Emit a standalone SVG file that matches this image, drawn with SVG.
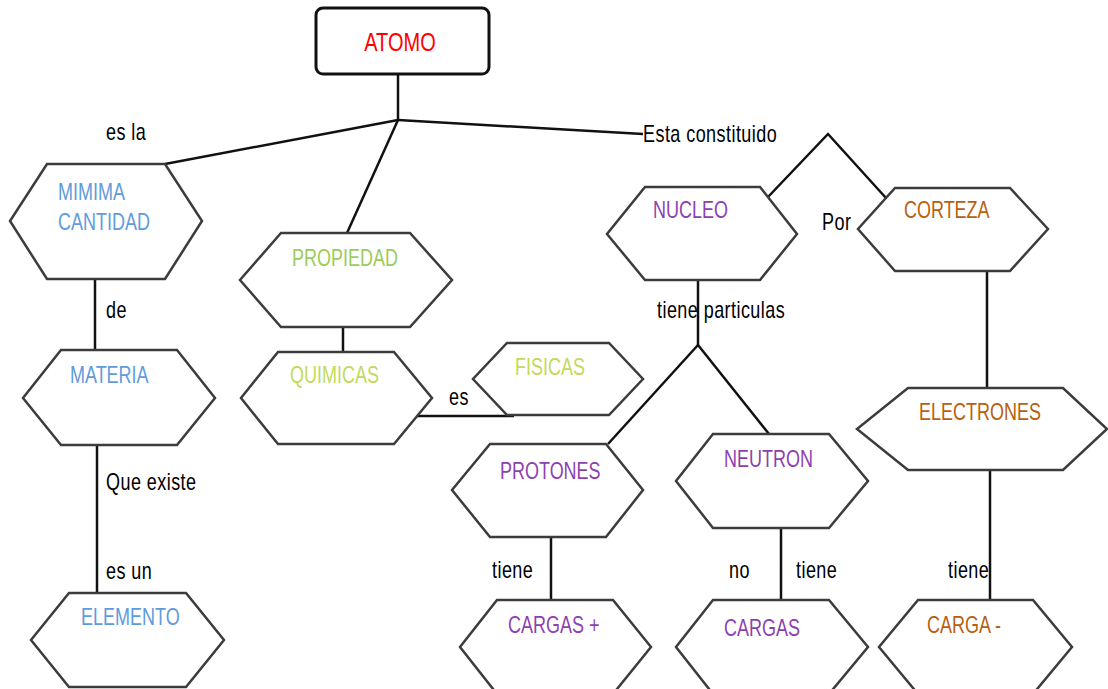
<svg xmlns="http://www.w3.org/2000/svg" width="1108" height="689" viewBox="0 0 1108 689">
<style>
.hex{fill:#fff;stroke:#3c3c3c;stroke-width:2.5;stroke-linejoin:miter}
.box{fill:#fff;stroke:#111;stroke-width:3}
.c{stroke:#111;stroke-width:2.5;fill:none}
text{font-family:"Liberation Sans",Arial,sans-serif;font-size:18px}
.lbl{fill:#000;letter-spacing:0.45px}
.red{fill:#ff0000;font-size:20px}
.blue{fill:#5f9bdc}
.green{fill:#9acd5a}
.lime{fill:#c2da5a}
.purple{fill:#8e3fb0}
.orange{fill:#b8600e}
</style>
<rect width="1108" height="689" fill="#fff"/>
<g id="connectors">
<line class="c" x1="398" y1="74" x2="398" y2="120"/>
<line class="c" x1="398" y1="120" x2="165" y2="164"/>
<line class="c" x1="398" y1="120" x2="347" y2="233"/>
<line class="c" x1="398" y1="120" x2="643" y2="134"/>
<polyline class="c" points="768,197 828,134 886,198"/>
<line class="c" x1="95" y1="279" x2="95" y2="350"/>
<line class="c" x1="97" y1="445" x2="97" y2="593"/>
<line class="c" x1="343" y1="327" x2="343" y2="352"/>
<line class="c" x1="416" y1="416" x2="514" y2="416"/>
<line class="c" x1="698" y1="280" x2="698" y2="345"/>
<line class="c" x1="698" y1="345" x2="608" y2="444"/>
<line class="c" x1="698" y1="345" x2="769" y2="434"/>
<line class="c" x1="551" y1="537" x2="551" y2="600"/>
<line class="c" x1="781" y1="528" x2="781" y2="600"/>
<line class="c" x1="987" y1="271" x2="987" y2="388"/>
<line class="c" x1="990" y1="470" x2="990" y2="600"/>
</g>
<g id="labels">
<text class="lbl" transform="scale(1,1.3)" x="106" y="107.69">es la</text>
<text class="lbl" transform="scale(1,1.3)" x="643" y="109.23">Esta constituido</text>
<text class="lbl" transform="scale(1,1.3)" x="822" y="176.92">Por</text>
<text class="lbl" transform="scale(1,1.3)" x="106" y="244.62">de</text>
<text class="lbl" transform="scale(1,1.3)" x="657" y="244.62">tiene particulas</text>
<text class="lbl" transform="scale(1,1.3)" x="449" y="311.54">es</text>
<text class="lbl" transform="scale(1,1.3)" x="106" y="376.92">Que existe</text>
<text class="lbl" transform="scale(1,1.3)" x="106" y="445.38">es un</text>
<text class="lbl" transform="scale(1,1.3)" x="492" y="444.62">tiene</text>
<text class="lbl" transform="scale(1,1.3)" x="729" y="444.62">no</text>
<text class="lbl" transform="scale(1,1.3)" x="796" y="444.62">tiene</text>
<text class="lbl" transform="scale(1,1.3)" x="948" y="444.62">tiene</text>
</g>
<g id="atomo">
<rect class="box" x="316" y="8" width="173" height="66" rx="7"/>
<text class="red" transform="scale(1,1.3)" x="400" y="39.23" text-anchor="middle">ATOMO</text>
</g>
<g id="minima-cantidad">
<polygon class="hex" points="47,164 165,164 202,221 165,279 47,279 10,221"/>
<text class="blue" transform="scale(1,1.3)" x="58" y="153.85">MIMIMA</text>
<text class="blue" transform="scale(1,1.3)" x="58" y="176.92">CANTIDAD</text>
</g>
<g id="propiedad">
<polygon class="hex" points="281,233 410,233 452,280 410,327 281,327 240,280"/>
<text class="green" transform="scale(1,1.3)" x="292" y="204.62">PROPIEDAD</text>
</g>
<g id="quimicas">
<polygon class="hex" points="278,352 394,352 432,398 394,444 278,444 241,398"/>
<text class="lime" transform="scale(1,1.3)" x="290" y="294.62">QUIMICAS</text>
</g>
<g id="fisicas">
<polygon class="hex" points="507,343 609,343 643,379 609,415 507,415 473,379"/>
<text class="lime" transform="scale(1,1.3)" x="515" y="288.46">FISICAS</text>
</g>
<g id="materia">
<polygon class="hex" points="61,350 177,350 215,398 177,445 61,445 23,398"/>
<text class="blue" transform="scale(1,1.3)" x="70" y="294.62">MATERIA</text>
</g>
<g id="elemento">
<polygon class="hex" points="69,593 186,593 224,640 186,687 69,687 31,640"/>
<text class="blue" transform="scale(1,1.3)" x="81" y="480.77">ELEMENTO</text>
</g>
<g id="nucleo">
<polygon class="hex" points="645,187 760,187 797,234 760,280 645,280 607,234"/>
<text class="purple" transform="scale(1,1.3)" x="653" y="167.69">NUCLEO</text>
</g>
<g id="corteza">
<polygon class="hex" points="895,188 1010,188 1048,229 1010,271 895,271 858,229"/>
<text class="orange" transform="scale(1,1.3)" x="904" y="167.69">CORTEZA</text>
</g>
<g id="protones">
<polygon class="hex" points="490,444 606,444 643,490 606,537 490,537 452,490"/>
<text class="purple" transform="scale(1,1.3)" x="500" y="368.46">PROTONES</text>
</g>
<g id="neutron">
<polygon class="hex" points="713,434 829,434 868,481 829,528 713,528 676,481"/>
<text class="purple" transform="scale(1,1.3)" x="724" y="359.23">NEUTRON</text>
</g>
<g id="electrones">
<polygon class="hex" points="908,388 1063,388 1107,429 1063,470 908,470 857,429"/>
<text class="orange" transform="scale(1,1.3)" x="919" y="323.08">ELECTRONES</text>
</g>
<g id="cargas-mas">
<polygon class="hex" points="497,600 613,600 651,647 613,694 497,694 460,647"/>
<text class="purple" transform="scale(1,1.3)" x="508" y="486.92">CARGAS +</text>
</g>
<g id="cargas">
<polygon class="hex" points="713,600 829,600 868,647 829,694 713,694 676,647"/>
<text class="purple" transform="scale(1,1.3)" x="724" y="489.23">CARGAS</text>
</g>
<g id="carga-menos">
<polygon class="hex" points="918,600 1033,600 1072,647 1033,694 918,694 879,647"/>
<text class="orange" transform="scale(1,1.3)" x="927" y="486.92">CARGA -</text>
</g>
</svg>
